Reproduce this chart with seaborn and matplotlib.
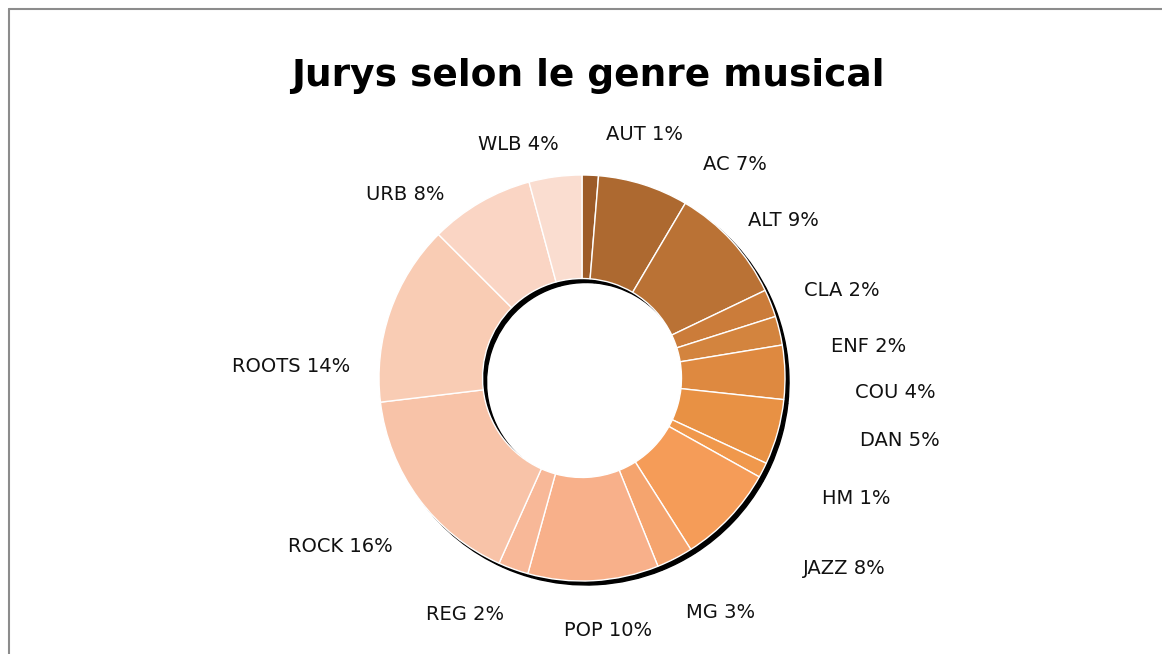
import matplotlib
matplotlib.use("Agg")
import matplotlib.pyplot as plt
import seaborn as sns
from matplotlib.lines import Line2D

# ---- data ----
genres = ["AUT", "AC", "ALT", "CLA", "ENF", "COU", "DAN", "HM",
          "JAZZ", "MG", "POP", "REG", "ROCK", "ROOTS", "URB", "WLB"]
shares = [1.3, 7.2, 9.4, 2.2, 2.3, 4.3, 5.2, 1.2,
          7.9, 2.9, 10.4, 2.4, 16.4, 14.4, 8.3, 4.2]
title = "Jurys selon le genre musical"

# ---- style ----
colors = ["#9C5B28", "#AD6930", "#BA7235", "#CB7C3A", "#D3843E", "#DE8940",
          "#E89144", "#F0984C", "#F59C58", "#F5A46E", "#F8B08A", "#F8B898",
          "#F8C3A8", "#F9CCB4", "#FAD5C4", "#FADDD0"]
# label anchor positions (pixels in the figure, from top-left)
label_px = [(645, 135), (735, 165), (783, 220), (842, 290), (869, 346),
            (895, 393), (900, 441), (856, 498), (844, 568), (721, 613),
            (608, 630), (465, 614), (340, 547), (291, 366), (405, 195),
            (518, 145)]

sns.set_theme(style="white")
plt.rcParams["font.family"] = ["DejaVu Sans"]

W, H = 1162, 654
CX, CY, R = 582, 378, 203
fig = plt.figure(figsize=(W / 100, H / 100), dpi=100)
ax = fig.add_axes([0, 0, 1, 1])
ax.set_xlim(-CX / R, (W - CX) / R)
ax.set_ylim(-(H - CY) / R, CY / R)
ax.set_aspect("equal")
ax.axis("off")

ring_w = 0.51
off = 4.0 / R
# shadow
ax.pie(shares, radius=1, center=(off, -off), startangle=90, counterclock=False,
       colors=["black"] * len(shares),
       wedgeprops=dict(width=ring_w, edgecolor="black", linewidth=1.0))
# ring
ax.pie(shares, radius=1, center=(0, 0), startangle=90, counterclock=False,
       colors=colors,
       wedgeprops=dict(width=ring_w, edgecolor="white", linewidth=1.0))
ax.set_xlim(-CX / R, (W - CX) / R)
ax.set_ylim(-(H - CY) / R, CY / R)

for g, v, (px, py) in zip(genres, shares, label_px):
    ax.text((px - CX) / R, (CY - py) / R, f"{g} {round(v)}%",
            ha="center", va="center", fontsize=14, color="#111111")

fig.text(588 / W, 1 - 76 / H, title, ha="center", va="center",
         fontsize=27, fontweight="bold", color="black",
         family=["DejaVu Sans"])

# chart-area frame (top and left edges visible)
fig.add_artist(Line2D([9 / W, 9 / W], [0, 1 - 9 / H], transform=fig.transFigure,
                      color="#8c8c8c", linewidth=1.5))
fig.add_artist(Line2D([9 / W, 1], [1 - 9 / H, 1 - 9 / H], transform=fig.transFigure,
                      color="#8c8c8c", linewidth=1.5))

fig.savefig("out.png", dpi=100, facecolor="white")
